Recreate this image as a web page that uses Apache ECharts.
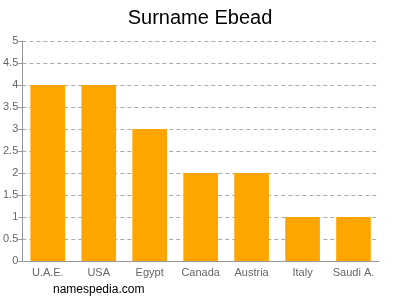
<!DOCTYPE html>
<html><head><meta charset="utf-8">
<script src="https://cdn.jsdelivr.net/npm/echarts@6/dist/echarts.min.js"></script>
<style>html,body{margin:0;padding:0;background:#fff}#c{width:400px;height:300px}</style>
</head><body><div id="c"></div>
<script>
var categories = ["U.A.E.", "USA", "Egypt", "Canada", "Austria", "Italy", "Saudi A."];
var values = [4, 4, 3, 2, 2, 1, 1];
var chart = echarts.init(document.getElementById('c'), null, {renderer: 'canvas'});
chart.setOption({
  animation: false,
  title: {text: 'Surname Ebead', left: 'center', top: 3,
    textStyle: {fontFamily: 'Liberation Sans, Arial', fontSize: 20, fontWeight: 'normal', color: '#000'}},
  graphic: [{type: 'text', left: 53, top: 284,
    style: {text: 'namespedia.com', fontFamily: 'Liberation Sans, Arial', fontSize: 12, fill: '#000'}}],
  grid: {left: 21, right: 21, top: 41, bottom: 39, containLabel: false},
  xAxis: {type: 'category', data: categories,
    axisLine: {lineStyle: {color: '#999'}}, axisTick: {show: false},
    axisLabel: {color: '#666', fontFamily: 'Liberation Sans, Arial', fontSize: 11, margin: 6, interval: 0}},
  yAxis: {type: 'value', min: 0, max: 5, interval: 0.5,
    axisLine: {show: true, lineStyle: {color: '#999'}},
    axisTick: {show: true, length: 4, lineStyle: {color: '#999'}},
    axisLabel: {color: '#666', fontFamily: 'Liberation Sans, Arial', fontSize: 11, margin: 4},
    splitLine: {show: true, lineStyle: {color: '#aaa', type: [4, 3]}},
  },
  series: [{type: 'bar', data: values, barWidth: '68%',
    itemStyle: {color: '#FFA500'}}]
});
</script></body></html>
